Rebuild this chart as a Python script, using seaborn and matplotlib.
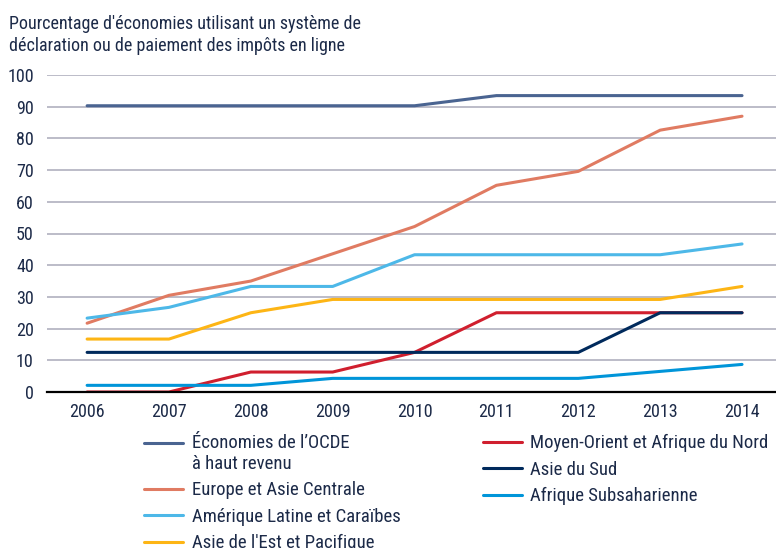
import pandas as pd
import matplotlib.pyplot as plt
import seaborn as sns

years = [2006, 2007, 2008, 2009, 2010, 2011, 2012, 2013, 2014]

ocde = [90.3, 90.3, 90.3, 90.3, 90.3, 93.5, 93.5, 93.5, 93.5]
europe = [21.7, 30.5, 35.0, 43.6, 52.2, 65.2, 69.6, 82.6, 87.0]
amerique = [23.3, 26.7, 33.3, 33.3, 43.3, 43.3, 43.3, 43.3, 46.7]
asie_est = [16.7, 16.7, 25.0, 29.2, 29.2, 29.2, 29.2, 29.2, 33.3]
moyen_orient = [0.0, 0.0, 6.3, 6.3, 12.5, 25.0, 25.0, 25.0, 25.0]
asie_sud = [12.5, 12.5, 12.5, 12.5, 12.5, 12.5, 12.5, 25.0, 25.0]
afrique = [2.1, 2.1, 2.1, 4.3, 4.3, 4.3, 4.3, 6.5, 8.7]

series = {
    "Économies de l\u2019OCDE\nà haut revenu": ocde,
    "Europe et Asie Centrale": europe,
    "Amérique Latine et Caraïbes": amerique,
    "Asie de l'Est et Pacifique": asie_est,
    "Moyen-Orient et Afrique du Nord": moyen_orient,
    "Asie du Sud": asie_sud,
    "Afrique Subsaharienne": afrique,
}
colors = ["#4a6491", "#e07b62", "#4db8e8", "#fdb515", "#d01f2e", "#002a5c", "#0095d9"]

rows = []
for name, vals in series.items():
    for y, v in zip(years, vals):
        rows.append({"Année": y, "Valeur": v, "Région": name})
df = pd.DataFrame(rows)

sns.set_style("white")
plt.rcParams["font.family"] = ["Roboto Condensed", "Liberation Sans", "DejaVu Sans"]
text_color = "#1c2a48"

fig = plt.figure(figsize=(7.76, 5.48), dpi=100)
ax = fig.add_axes([47 / 776, 1 - 392 / 548, 729 / 776, 317 / 548])

sns.lineplot(data=df, x="Année", y="Valeur", hue="Région", palette=colors,
             linewidth=2.2, ax=ax, legend=False)

ax.set_ylim(0, 100)
ax.set_xlim(2006 - 0.49, 2014 + 0.415)
ax.set_yticks(range(0, 101, 10))
ax.set_xticks(years)
ax.set_xlabel("")
ax.set_ylabel("")
ax.grid(axis="y", color="#b6b6c4", linewidth=1.3)
ax.set_axisbelow(True)
for s in ["top", "right", "left"]:
    ax.spines[s].set_visible(False)
ax.spines["bottom"].set_color("black")
ax.spines["bottom"].set_linewidth(1.6)
ax.tick_params(axis="both", length=0, labelsize=13, colors=text_color)
ax.tick_params(axis="y", pad=9.5)
ax.tick_params(axis="x", pad=8)

fig.text(9 / 776, 1 - 15 / 548,
         "Pourcentage d'économies utilisant un système de\ndéclaration ou de paiement des impôts en ligne",
         ha="left", va="top", fontsize=13, color=text_color, linespacing=1.3)

handles = [plt.Line2D([], [], color=c, linewidth=2.2) for c in colors]
leg = fig.legend(handles, list(series.keys()), ncol=2, loc="upper left",
                 bbox_to_anchor=(144 / 776, 1 - 434 / 548), frameon=False,
                 fontsize=13.5, handlelength=2.08, handletextpad=0.46,
                 columnspacing=4.4, labelspacing=0.45,
                 borderpad=0, borderaxespad=0)
for t in leg.get_texts():
    t.set_color(text_color)

# both legend columns start at the top
leg._legend_handle_box.align = "top"

# handle of the two-line entry sits next to its first line
first = leg.legend_handles[0]
first.set_ydata([v + 7.5 for v in first.get_ydata()])

fig.savefig("out.png", dpi=100)
